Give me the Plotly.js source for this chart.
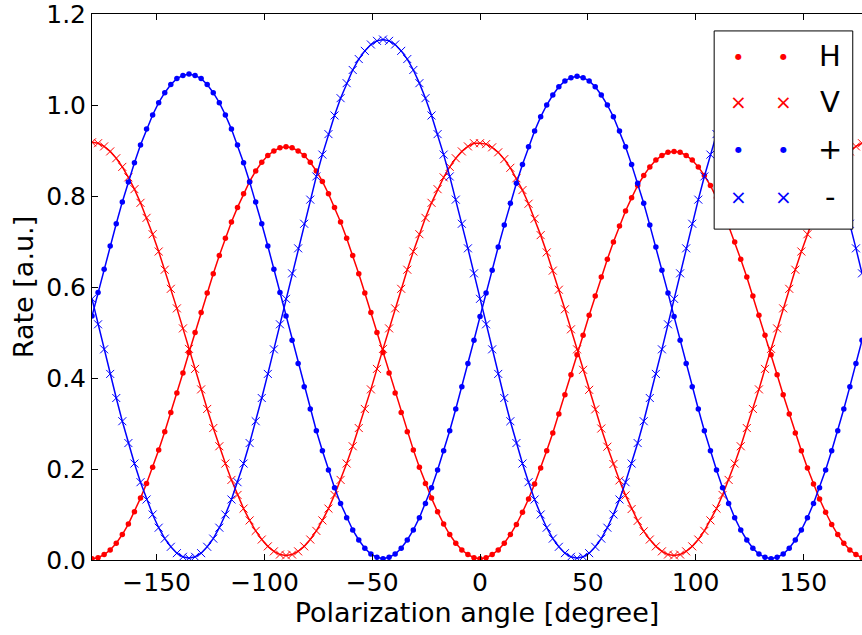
<!DOCTYPE html>
<html>
<head>
<meta charset="utf-8">
<script src="https://cdn.plot.ly/plotly-3.0.1.min.js"></script>
<style>html,body{margin:0;padding:0;background:#fff;}#chart{width:862px;height:635px;}</style>
</head>
<body>
<div id="chart"></div>
<script>
// Polarization angle [degree]
const angle = [
-180,-177.1875,-174.375,-171.5625,-168.75,-165.9375,-163.125,-160.3125,-157.5,-154.6875,-151.875,-149.0625,-146.25,-143.4375,-140.625,-137.8125,
-135,-132.1875,-129.375,-126.5625,-123.75,-120.9375,-118.125,-115.3125,-112.5,-109.6875,-106.875,-104.0625,-101.25,-98.4375,-95.625,-92.8125,
-90,-87.1875,-84.375,-81.5625,-78.75,-75.9375,-73.125,-70.3125,-67.5,-64.6875,-61.875,-59.0625,-56.25,-53.4375,-50.625,-47.8125,
-45,-42.1875,-39.375,-36.5625,-33.75,-30.9375,-28.125,-25.3125,-22.5,-19.6875,-16.875,-14.0625,-11.25,-8.4375,-5.625,-2.8125,
0,2.8125,5.625,8.4375,11.25,14.0625,16.875,19.6875,22.5,25.3125,28.125,30.9375,33.75,36.5625,39.375,42.1875,
45,47.8125,50.625,53.4375,56.25,59.0625,61.875,64.6875,67.5,70.3125,73.125,75.9375,78.75,81.5625,84.375,87.1875,
90,92.8125,95.625,98.4375,101.25,104.0625,106.875,109.6875,112.5,115.3125,118.125,120.9375,123.75,126.5625,129.375,132.1875,
135,137.8125,140.625,143.4375,146.25,149.0625,151.875,154.6875,157.5,160.3125,163.125,165.9375,168.75,171.5625,174.375,177.1875
];

const rateH = [
0.003,0.005,0.012,0.022,0.037,0.056,0.079,0.106,0.136,0.168,0.204,0.242,0.282,0.324,0.367,0.411,0.456,0.500,0.544,0.587,0.629,0.669,0.707,0.743,0.775,0.805,0.832,0.855,0.874,0.889,0.899,0.906,0.908,
0.906,0.899,0.889,0.874,0.855,0.832,0.805,0.775,0.743,0.707,0.669,0.629,0.587,0.544,0.500,0.456,0.411,0.367,0.324,0.282,0.242,0.204,0.168,0.136,0.106,0.079,0.056,0.037,0.022,0.012,0.005,
0.003,0.005,0.012,0.022,0.037,0.056,0.078,0.105,0.134,0.167,0.202,0.240,0.279,0.321,0.363,0.407,0.451,0.494,0.538,0.580,0.622,0.661,0.699,0.734,0.767,0.796,0.823,0.845,0.864,0.879,0.889,0.896,0.898,
0.896,0.889,0.879,0.864,0.845,0.823,0.796,0.767,0.734,0.699,0.661,0.622,0.580,0.538,0.494,0.451,0.407,0.363,0.321,0.279,0.240,0.202,0.167,0.134,0.105,0.078,0.056,0.037,0.022,0.012,0.005
];

const rateV = [
0.918,0.916,0.909,0.898,0.883,0.864,0.841,0.815,0.785,0.752,0.716,0.678,0.638,0.596,0.553,0.509,0.464,0.420,0.375,0.332,0.290,0.250,0.212,0.176,0.143,0.113,0.087,0.064,0.045,0.030,0.019,0.012,0.010,
0.012,0.019,0.030,0.045,0.064,0.087,0.113,0.143,0.176,0.212,0.250,0.290,0.332,0.375,0.420,0.464,0.509,0.553,0.596,0.638,0.678,0.716,0.752,0.785,0.815,0.841,0.864,0.883,0.898,0.909,0.916,
0.916,0.914,0.907,0.896,0.881,0.862,0.839,0.813,0.783,0.750,0.714,0.676,0.636,0.594,0.551,0.507,0.463,0.418,0.374,0.331,0.289,0.249,0.211,0.175,0.142,0.112,0.086,0.063,0.045,0.030,0.019,0.012,0.010,
0.012,0.019,0.030,0.045,0.064,0.087,0.113,0.143,0.176,0.212,0.250,0.290,0.332,0.375,0.420,0.464,0.509,0.553,0.596,0.638,0.678,0.716,0.752,0.785,0.815,0.841,0.864,0.883,0.898,0.909,0.916
];

const ratePlus = [
0.536,0.588,0.639,0.690,0.739,0.787,0.831,0.873,0.912,0.947,0.978,1.005,1.027,1.045,1.058,1.065,1.068,
1.065,1.058,1.045,1.027,1.005,0.978,0.947,0.912,0.873,0.831,0.787,0.739,0.690,0.639,0.588,0.536,0.483,0.432,0.381,0.332,0.284,0.240,0.198,0.159,0.124,0.093,0.066,0.044,0.026,0.013,0.006,0.003,
0.006,0.013,0.026,0.044,0.066,0.093,0.124,0.159,0.198,0.240,0.284,0.332,0.381,0.432,0.483,
0.535,0.587,0.637,0.688,0.736,0.784,0.828,0.869,0.908,0.943,0.974,1.000,1.022,1.040,1.053,1.060,1.063,
1.060,1.053,1.040,1.022,1.000,0.974,0.943,0.908,0.869,0.828,0.784,0.736,0.688,0.637,0.587,0.535,0.483,0.432,0.381,0.332,0.284,0.240,0.198,0.159,0.124,0.093,0.066,0.044,0.026,0.013,0.006,0.003,
0.006,0.013,0.026,0.044,0.066,0.093,0.124,0.159,0.198,0.240,0.284,0.332,0.381,0.432,0.483
];

const rateMinus = [
0.574,0.518,0.463,0.409,0.356,0.305,0.257,0.212,0.171,0.133,0.100,0.071,0.047,0.029,0.015,0.007,0.004,
0.007,0.015,0.029,0.047,0.071,0.100,0.133,0.171,0.212,0.257,0.305,0.356,0.409,0.463,0.518,0.574,0.630,0.685,0.739,0.792,0.843,0.891,0.936,0.977,1.015,1.048,1.077,1.101,1.119,1.133,1.141,1.144,
1.141,1.133,1.119,1.101,1.077,1.048,1.015,0.977,0.936,0.891,0.843,0.792,0.739,0.685,0.630,
0.574,0.518,0.463,0.409,0.356,0.305,0.257,0.212,0.171,0.133,0.100,0.071,0.047,0.029,0.015,0.007,0.004,
0.007,0.015,0.029,0.047,0.071,0.100,0.133,0.171,0.212,0.257,0.305,0.356,0.409,0.463,0.518,0.574,0.630,0.685,0.739,0.792,0.843,0.891,0.936,0.977,1.015,1.048,1.077,1.101,1.119,1.133,1.141,1.144,
1.141,1.133,1.119,1.101,1.077,1.048,1.015,0.977,0.936,0.891,0.843,0.792,0.739,0.685,0.630
];

const seriesNames = ['H', 'V', '+', '-'];
const xTicks = [-150, -100, -50, 0, 50, 100, 150];
const yTicks = [0.0, 0.2, 0.4, 0.6, 0.8, 1.0, 1.2];

const RED = '#ff0000', BLUE = '#0000ff';
const dot = c => ({symbol: 'circle', size: 5.5, color: c, line: {width: 0}});
const cross = c => ({symbol: 'x-thin-open', size: 8, color: c, line: {width: 1, color: c}});

const styles = [
  {y: rateH, color: RED, marker: dot(RED)},
  {y: rateV, color: RED, marker: cross(RED)},
  {y: ratePlus, color: BLUE, marker: dot(BLUE)},
  {y: rateMinus, color: BLUE, marker: cross(BLUE)}
];

const traces = styles.map((s, i) => ({
  x: angle, y: s.y, name: seriesNames[i], type: 'scatter', mode: 'lines+markers',
  line: {color: s.color, width: 1.5}, marker: s.marker, showlegend: false, cliponaxis: true
}));

// custom legend (two markers per entry, matplotlib style)
const L = {x0: 0.808, x1: 0.988, y0: 0.606, y1: 0.969};
const rowY = [0.923, 0.839, 0.752, 0.665];
const mk1 = 0.839, mk2 = 0.898, txtX = 0.958;
const annotations = [];
const legendGlyph = ['●', '×', '●', '×'];
const legendColor = [RED, RED, BLUE, BLUE];
const glyphSize = [8, 20, 8, 20];
seriesNames.forEach((n, i) => {
  [mk1, mk2].forEach(mx => annotations.push({
    xref: 'paper', yref: 'paper', x: mx, y: rowY[i], text: legendGlyph[i], showarrow: false,
    font: {family: 'DejaVu Sans', size: glyphSize[i], color: legendColor[i]}, xanchor: 'center', yanchor: 'middle'
  }));
  annotations.push({
    xref: 'paper', yref: 'paper', x: txtX, y: rowY[i], text: n, showarrow: false,
    font: {family: 'DejaVu Sans', size: 29, color: '#000'}, xanchor: 'center', yanchor: 'middle'
  });
});

const layout = {
  width: 862, height: 635,
  margin: {l: 92, r: 0, t: 14, b: 75},
  paper_bgcolor: '#fff', plot_bgcolor: '#fff',
  font: {family: 'DejaVu Sans', size: 25, color: '#000'},
  showlegend: false,
  xaxis: {
    range: [-180, 177.1875], tickvals: xTicks, ticktext: xTicks.map(v => v < 0 ? '\u2212' + Math.abs(v) : String(v)),
    ticks: 'inside', ticklen: 6, tickwidth: 1, tickcolor: '#000',
    showline: true, linecolor: '#000', linewidth: 1, mirror: 'ticks',
    showgrid: false, zeroline: false, ticklabeloverflow: 'allow',
    title: {text: 'Polarization angle [degree]', font: {size: 27}, standoff: 7},
    tickfont: {size: 25}
  },
  yaxis: {
    range: [0, 1.2], tickvals: yTicks, ticktext: yTicks.map(v => v.toFixed(1)),
    ticks: 'inside', ticklen: 6, tickwidth: 1, tickcolor: '#000',
    showline: true, linecolor: '#000', linewidth: 1, mirror: false,
    showgrid: false, zeroline: false, ticklabeloverflow: 'allow',
    title: {text: 'Rate [a.u.]', font: {size: 27}, standoff: 4},
    tickfont: {size: 25}
  },
  shapes: [
    {type: 'rect', xref: 'paper', yref: 'paper', x0: L.x0, x1: L.x1, y0: L.y0, y1: L.y1,
     fillcolor: '#fff', line: {color: '#000', width: 1}, layer: 'above'}
  ],
  annotations: annotations
};

Plotly.newPlot('chart', traces, layout, {displayModeBar: false, staticPlot: true});
</script>
</body>
</html>
